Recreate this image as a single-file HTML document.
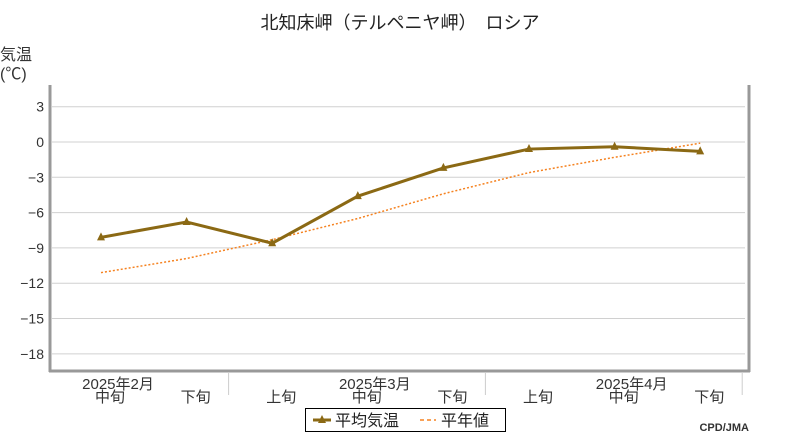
<!DOCTYPE html>
<html><head><meta charset="utf-8"><style>
body{margin:0;background:#fff;font-family:"Liberation Sans","Noto Sans CJK JP",sans-serif;}
svg text{font-family:"Liberation Sans","Noto Sans CJK JP",sans-serif;}
</style></head><body>
<svg id="c" width="800" height="440" xmlns="http://www.w3.org/2000/svg">
<text x="400" y="29" text-anchor="middle" font-size="18" fill="#222">北知床岬（テルペニヤ岬）　ロシア</text>
<text x="0" y="60" font-size="16" fill="#333">気温</text>
<text x="0" y="79" font-size="16" fill="#333">(℃)</text>
<g id="grid"></g><g id="marks"></g>
<line x1="50" y1="85" x2="50" y2="372" stroke="#999" stroke-width="3"/>
<line x1="49" y1="371" x2="750" y2="371" stroke="#999" stroke-width="3"/>
<line x1="749" y1="85" x2="749" y2="372" stroke="#999" stroke-width="3"/>
<g>
<rect x="305.5" y="408.5" width="200" height="23" fill="#fff" stroke="#000"/>
<line x1="313" y1="420" x2="331" y2="420" stroke="#8b6914" stroke-width="3"/>
<path d="M322 415 L326 423 L318 423 Z" fill="#8b6914"/>
<text x="335" y="426" font-size="16" fill="#222">平均気温</text>
<line x1="420" y1="420" x2="436" y2="420" stroke="#f58220" stroke-width="1.5" stroke-dasharray="4,3"/>
<text x="441" y="426" font-size="16" fill="#222">平年値</text>
</g>
<text x="749" y="431" text-anchor="end" font-size="11" font-weight="bold" fill="#333" font-family="Liberation Mono">CPD/JMA</text>
</svg>
<script>
const categories=["中旬","下旬","上旬","中旬","下旬","上旬","中旬","下旬"];
const monthLabels=["2025年2月","2025年3月","2025年4月"];
const avgTemp=[-8.1,-6.8,-8.6,-4.6,-2.2,-0.6,-0.4,-0.8];
const normalTemp=[-11.1,-9.9,-8.3,-6.5,-4.4,-2.6,-1.3,-0.1];
const yTicks=[3,0,-3,-6,-9,-12,-15,-18];
const NS="http://www.w3.org/2000/svg";
const xS=i=>101+i*85.6;
const yS=v=>142-v*11.77;
function mk(tag,at,parent,txt){const e=document.createElementNS(NS,tag);for(const k in at)e.setAttribute(k,at[k]);if(txt!==undefined)e.textContent=txt;parent.appendChild(e);return e;}
const svg=document.getElementById('c'),grid=document.getElementById('grid'),marks=document.getElementById('marks');
yTicks.forEach(t=>{
 const l=mk('line',{x1:52,x2:745,y1:yS(t),y2:yS(t),stroke:'#d0d0d0','stroke-width':1},grid);
 
 
 const tx=mk('text',{x:44,y:yS(t)+5,'text-anchor':'end','font-size':14,fill:'#333'},grid,(t<0?'−':'')+Math.abs(t));
 
 
});
categories.forEach((c,i)=>{
 const tx=mk('text',{x:xS(i)+9,y:402,'text-anchor':'middle','font-size':15,fill:'#333'},svg,c);
 
 
});
monthLabels.forEach((m,j)=>{
 const tx=mk('text',{x:xS(3*j)+17,y:389,'text-anchor':'middle','font-size':15,fill:'#333'},svg,m);
 
 
 const sx=xS(3*j+1)+42;
 const l=mk('line',{x1:sx,x2:sx,y1:372,y2:395,stroke:'#ccc','stroke-width':1},svg);
 
 
});
const np=mk('polyline',{points:normalTemp.map((v,i)=>xS(i)+','+yS(v)).join(' '),fill:'none',stroke:'#f58220','stroke-width':1.5,'stroke-dasharray':'2,2'},marks);


const ap=mk('polyline',{points:avgTemp.map((v,i)=>xS(i)+','+yS(v)).join(' '),fill:'none',stroke:'#8b6914','stroke-width':3},marks);


avgTemp.forEach((v,i)=>{
 const x=xS(i),y=yS(v);
 const p=mk('path',{d:`M${x} ${y-5} L${x+4} ${y+3} L${x-4} ${y+3} Z`,fill:'#8b6914'},marks);
 
 
});
</script>
</body></html>
